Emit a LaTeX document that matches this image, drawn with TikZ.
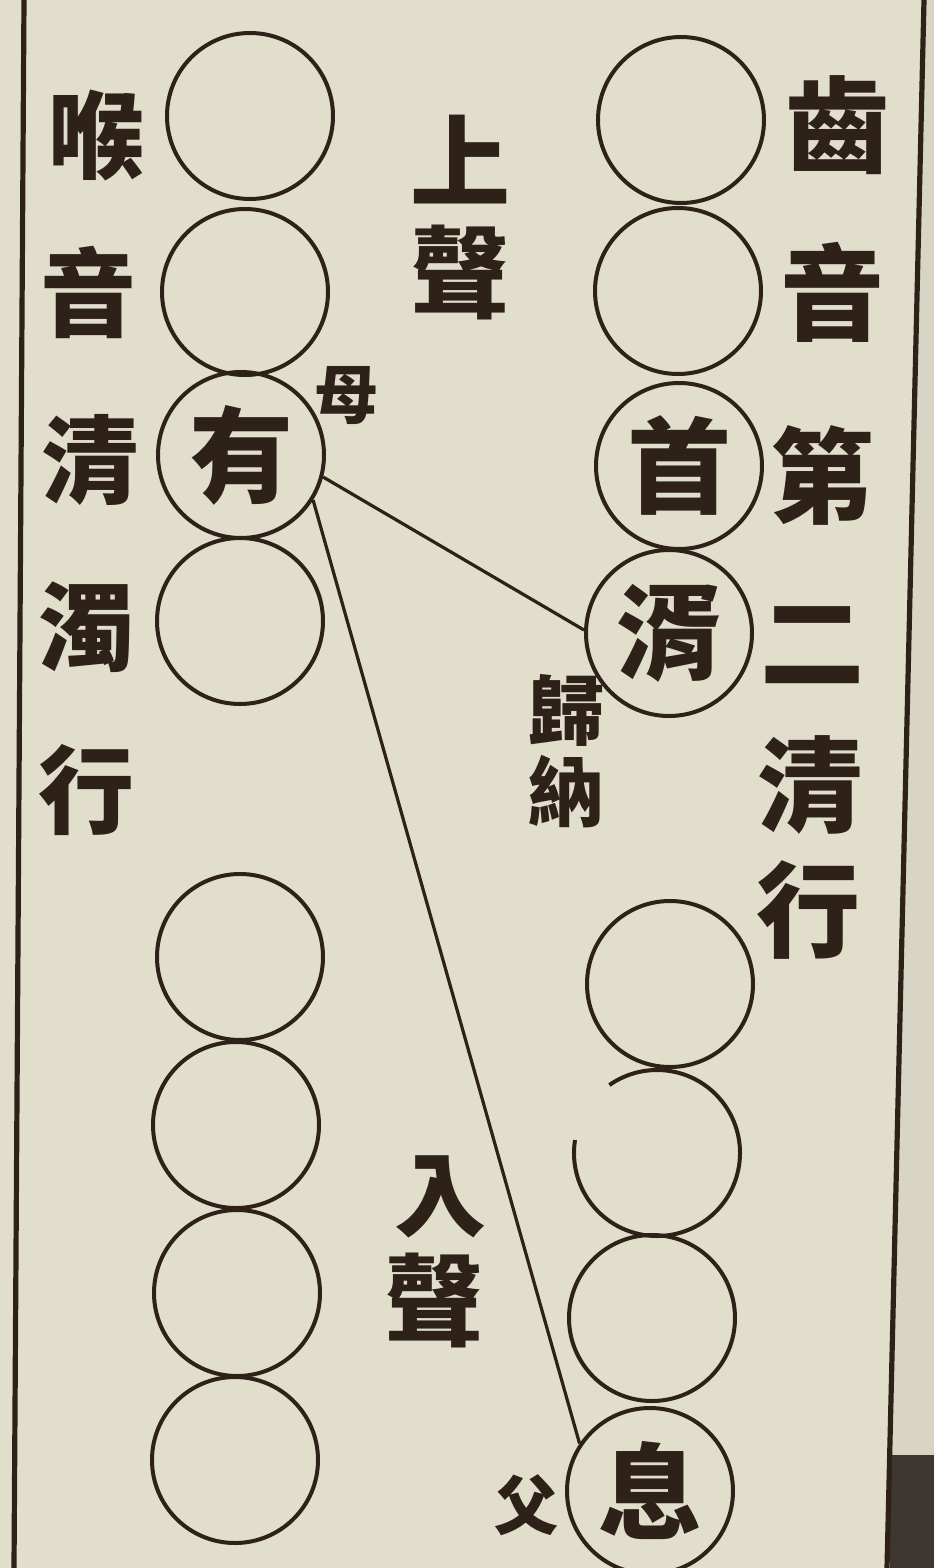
\documentclass[tikz,border=0pt]{standalone}
\usetikzlibrary{calc}
\usepackage{fontspec}
\newfontfamily\cjk{Noto Sans CJK TC}
\definecolor{paper}{RGB}{226,222,204}
\definecolor{ink}{RGB}{45,33,24}
\definecolor{darkedge}{RGB}{62,54,48}
\begin{document}
\begin{tikzpicture}[x=0.5pt,y=-0.5pt,
  ring/.style={circle,draw=ink,line width=2pt,minimum size=83pt,inner sep=0pt,text=ink,font=\cjk\bfseries\fontsize{52}{52}\selectfont},
  glyph/.style={inner sep=0pt,text=ink,font=\cjk\bfseries\fontsize{#1}{#1}\selectfont},
  rule/.style={ink,line width=2.6pt},
  link/.style={ink,line width=1.6pt}]
\useasboundingbox (0,0) rectangle (934,1568);
\fill[paper] (0,0) rectangle (934,1568);
\fill[paper!96!black] (925,0) -- (934,0) -- (934,1568) -- (887,1568) -- cycle;
\fill[darkedge] (890,1455) rectangle (934,1568);
% frame rules
\draw[rule] (24,0) -- (14,1568);
\draw[rule] (924,0) -- (887,1568);
% left column circles
\node[ring] (l1) at (250,116) {};
\node[ring] (l2) at (245,292) {};
\node[ring] (you) at (241,455) {有};
\node[ring] (l4) at (240,621) {};
\node[ring] (l5) at (240,957) {};
\node[ring] (l6) at (236,1125) {};
\node[ring] (l7) at (237,1293) {};
\node[ring] (l8) at (235,1460) {};
% right column circles
\node[ring] (r1) at (681,120) {};
\node[ring] (r2) at (678,291) {};
\node[ring] (shou) at (679,466) {首};
\node[ring] (xu) at (669,633) {湑};
\node[ring] (r5) at (670,984) {};
\node (r6) at (657,1153) {};
\draw[ink,line width=2pt] ($(r6.center)+(171:41.5pt)$) arc[start angle=171,end angle=485,radius=41.5pt];
\node[ring] (r7) at (652,1318) {};
\node[ring] (xi) at (650,1491) {息};
% connectors
\draw[link] (you.-15) -- (xu.178);
\draw[link] (you.-32) -- (xi.146);
% right column title
\node[glyph=52] (t1) at (837,125) {齒};
\node[glyph=52] (t2) at (832,292) {音};
\node[glyph=52] (t3) at (822,475) {第};
\node[glyph=52] (t4) at (812,645) {二};
\node[glyph=52] (t5) at (810,785) {清};
\node[glyph=52] (t6) at (808,910) {行};
% left column title
\node[glyph=48] (h1) at (96,135) {喉};
\node[glyph=48] (h2) at (88,292) {音};
\node[glyph=48] (h3) at (90,460) {清};
\node[glyph=48] (h4) at (86,627) {濁};
\node[glyph=48] (h5) at (86,790) {行};
% tone labels
\node[glyph=50] (s1) at (460,160) {上};
\node[glyph=50] (s2) at (460,272) {聲};
\node[glyph=46] (e1) at (440,1197) {入};
\node[glyph=50] (e2) at (434,1300) {聲};
% small labels
\node[glyph=32] (mu) at (346,396) {母};
\node[glyph=38] (g1) at (566,710) {歸};
\node[glyph=38] (g2) at (566,792) {納};
\node[glyph=32] (fu) at (526,1505) {父};
\end{tikzpicture}
\end{document}
